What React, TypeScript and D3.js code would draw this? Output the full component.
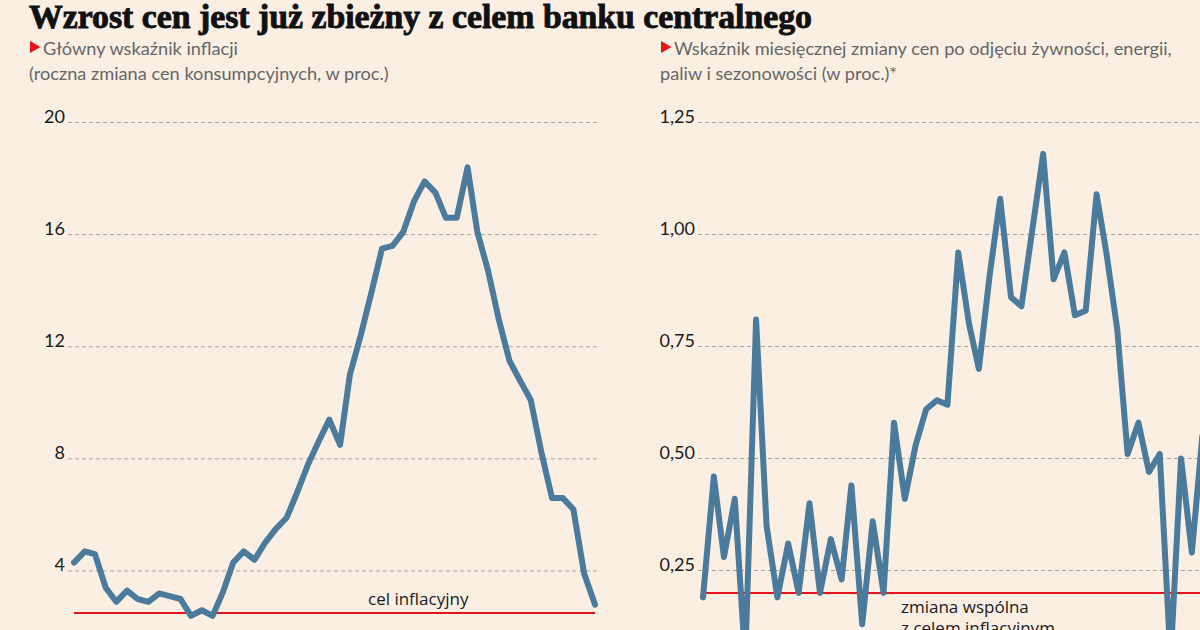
import React from 'react';
import * as d3 from 'd3';

// months shown on both panels (Jan 2020 - Feb 2024)
const months = d3.timeMonth.range(new Date(2020, 0, 1), new Date(2024, 2, 1));

// main CPI, y/y %
const headline = [4.3, 4.7, 4.6, 3.4, 2.9, 3.3, 3.0, 2.9, 3.2, 3.1,
  3.0, 2.4, 2.6, 2.4, 3.2, 4.3, 4.7, 4.4, 5.0, 5.5,
  5.9, 6.8, 7.8, 8.6, 9.4, 8.5, 11.0, 12.4, 13.9, 15.5,
  15.6, 16.1, 17.2, 17.9, 17.5, 16.6, 16.6, 18.4, 16.1, 14.7,
  13.0, 11.5, 10.8, 10.1, 8.2, 6.6, 6.6, 6.2, 3.9, 2.8];

// core m/m %, seasonally adjusted (last points are cut by the frame)
const coreMonthly = [0.19, 0.46, 0.28, 0.41, 0.05, 0.81, 0.35, 0.19, 0.31, 0.20,
  0.40, 0.20, 0.32, 0.23, 0.44, 0.13, 0.36, 0.20, 0.58, 0.41,
  0.53, 0.61, 0.63, 0.62, 0.96, 0.80, 0.70, 0.91, 1.08, 0.86,
  0.84, 1.01, 1.18, 0.90, 0.96, 0.82, 0.83, 1.09, 0.96, 0.79,
  0.51, 0.58, 0.47, 0.51, 0.05, 0.50, 0.29, 0.55];

const leftTicks = [4, 8, 12, 16, 20];
const rightTicks = [0.25, 0.5, 0.75, 1.0, 1.25];
const headlineTarget = 2.5;
const coreTarget = 0.2;

const BG = '#fbeee3';
const LINE = '#4b7b9c';
const RED = '#e5141b';
const GRID = '#a9a39d';
const SUB = '#666666';

const fmtRight = (v: number) => d3.format('.2f')(v).replace('.', ',');

function App() {
  const first = months[0];
  const last = months[months.length - 1];

  // left panel
  const xL = d3.scaleTime().domain([first, last]).range([74, 595]);
  const yL = d3.scaleLinear().domain([0, 20]).range([683.1, 122.5]);
  const lineL = d3.line<number>()
    .x((d, i) => xL(months[i]))
    .y(d => yL(d));

  // right panel, extends past the frame
  const xR = d3.scaleTime().domain([first, last]).range([703, 1224]);
  const yR = d3.scaleLinear().domain([0.25, 1.25]).range([570.5, 122.5]);
  const lineR = d3.line<number>()
    .x((d, i) => xR(months[i]))
    .y(d => yR(d));

  return (
    <svg width={1200} height={630} style={{ position: 'absolute', left: 0, top: 0 }}>
      <rect width={1200} height={630} fill={BG} />

      <text x={29} y={28} fontFamily="Liberation Serif" fontWeight="bold" fontSize={34}
        fill="#111" stroke="#111" strokeWidth={0.9} textLength={783} lengthAdjust="spacingAndGlyphs">
        Wzrost cen jest już zbieżny z celem banku centralnego
      </text>

      {/* left subtitle */}
      <path d="M30,41 L40.5,47 L30,53 Z" fill={RED} />
      <g fontFamily="Lato" fontSize={18.2} fill={SUB}>
        <text x={43} y={55}>Główny wskaźnik inflacji</text>
        <text x={29} y={80}>(roczna zmiana cen konsumpcyjnych, w proc.)</text>
      </g>

      {/* right subtitle */}
      <path d="M661,41 L671.5,47 L661,53 Z" fill={RED} />
      <g fontFamily="Lato" fontSize={18.2} fill={SUB}>
        <text x={674} y={55}>Wskaźnik miesięcznej zmiany cen po odjęciu żywności, energii,</text>
        <text x={660} y={80}>paliw i sezonowości (w proc.)*</text>
      </g>

      {/* left grid */}
      {leftTicks.map(t => (
        <g key={t}>
          <line x1={68} x2={598} y1={yL(t)} y2={yL(t)} stroke={GRID} strokeDasharray="4 3" />
          <text x={65} y={yL(t) + 0.5} textAnchor="end" fontFamily="Lato" fontSize={18} fill="#1a1a1a">{t}</text>
        </g>
      ))}

      {/* right grid */}
      {rightTicks.map(t => (
        <g key={t}>
          <line x1={698} x2={1200} y1={yR(t)} y2={yR(t)} stroke={GRID} strokeDasharray="4 3" />
          <text x={695} y={yR(t) + 0.5} textAnchor="end" fontFamily="Lato" fontSize={18} fill="#1a1a1a">{fmtRight(t)}</text>
        </g>
      ))}

      {/* targets */}
      <line x1={xL(first)} x2={xL(last)} y1={yL(headlineTarget)} y2={yL(headlineTarget)} stroke={RED} strokeWidth={2} />
      <text x={368} y={605} fontFamily="Open Sans" fontSize={17} fill="#1a1a1a">cel inflacyjny</text>

      <line x1={xR(first)} x2={xR(last)} y1={yR(coreTarget)} y2={yR(coreTarget)} stroke={RED} strokeWidth={2} />
      <g fontFamily="Open Sans" fontSize={17} fill="#1a1a1a">
        <text x={901} y={613}>zmiana wspólna</text>
        <text x={901} y={634}>z celem inflacyjnym</text>
      </g>

      <path d={lineL(headline) ?? ''} fill="none" stroke={LINE} strokeWidth={6}
        strokeLinejoin="round" strokeLinecap="round" />
      <path d={lineR(coreMonthly) ?? ''} fill="none" stroke={LINE} strokeWidth={6}
        strokeLinejoin="round" strokeLinecap="round" />
    </svg>
  );
}

export default App;
